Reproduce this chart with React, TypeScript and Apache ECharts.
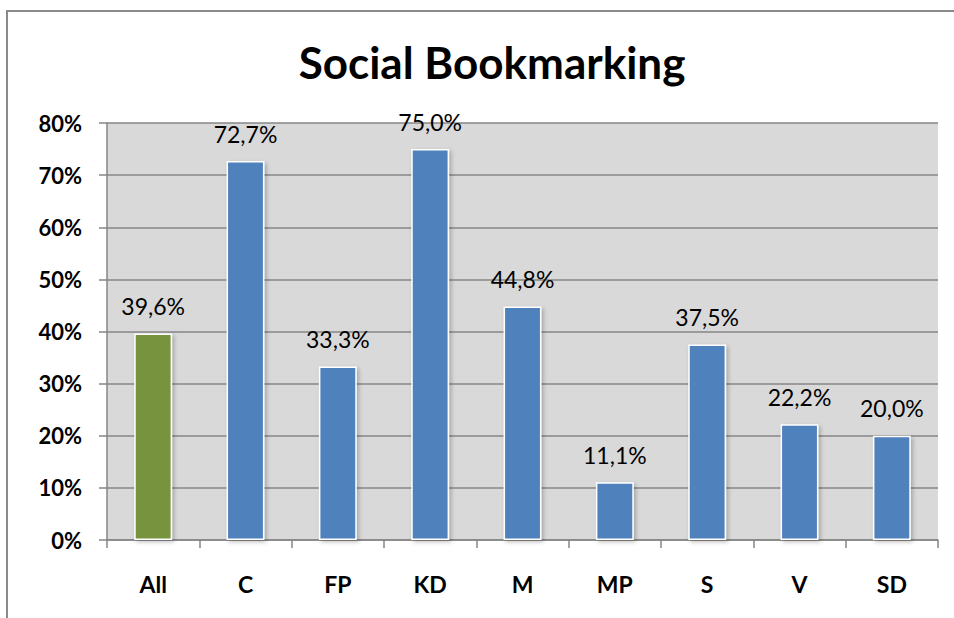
import React, { useEffect, useRef } from "react";
import * as echarts from "echarts";

const categories = ["All", "C", "FP", "KD", "M", "MP", "S", "V", "SD"];
const values = [39.6, 72.7, 33.3, 75.0, 44.8, 11.1, 37.5, 22.2, 20.0];
const highlightIndex = 0;
const yTicks = { min: 0, max: 80, interval: 10 };
const title = "Social Bookmarking";

const FONT = "Lato, 'Open Sans', sans-serif";

export default function App() {
  const ref = useRef<HTMLDivElement>(null);
  useEffect(() => {
    if (!ref.current) return;
    const chart = echarts.init(ref.current, null, { renderer: "svg" });
    chart.setOption({
      animation: false,
      backgroundColor: "#ffffff",
      title: {
        text: title,
        left: 487,
        top: 35,
        textAlign: "center",
        textStyle: { fontFamily: FONT, fontSize: 44, fontWeight: "bold", color: "#000" },
      },
      graphic: [
        {
          type: "rect",
          shape: { x: 7, y: 11, width: 1000, height: 700 },
          style: { fill: "none", stroke: "#8a8a8a", lineWidth: 2 },
          silent: true,
        },
      ],
      grid: {
        left: 107,
        right: 16,
        top: 123,
        bottom: 78,
        show: true,
        backgroundColor: "#d9d9d9",
        borderWidth: 0,
      },
      xAxis: {
        type: "category",
        data: categories,
        axisLine: { show: true, lineStyle: { color: "#868686", width: 1.5 } },
        axisTick: { show: true, length: 8, lineStyle: { color: "#868686", width: 1.5 } },
        axisLabel: {
          margin: 32,
          fontFamily: FONT,
          fontSize: 23,
          fontWeight: "bold",
          color: "#000",
        },
      },
      yAxis: {
        type: "value",
        min: yTicks.min,
        max: yTicks.max,
        interval: yTicks.interval,
        axisLine: { show: true, lineStyle: { color: "#868686", width: 1.5 } },
        axisTick: { show: true, length: 8, inside: false, lineStyle: { color: "#868686", width: 1.5 } },
        splitLine: { show: true, lineStyle: { color: "#868686", width: 1.5 } },
        axisLabel: {
          margin: 25,
          fontFamily: FONT,
          fontSize: 22,
          fontWeight: "bold",
          color: "#000",
          formatter: (v: number) => v + "%",
        },
      },
      series: [
        {
          type: "bar",
          barWidth: "41%",
          data: values.map((v, i) => ({
            value: v,
            itemStyle: { color: i === highlightIndex ? "#77933c" : "#4f81bd" },
          })),
          itemStyle: {
            borderColor: "#ffffff",
            borderWidth: 1.5,
            shadowColor: "rgba(0,0,0,0.25)",
            shadowBlur: 4,
            shadowOffsetX: 2,
            shadowOffsetY: 2,
          },
          label: {
            show: true,
            position: "top",
            distance: 16,
            fontFamily: FONT,
            fontSize: 23,
            color: "#000",
            formatter: (p: any) => p.value.toFixed(1).replace(".", ",") + "%",
          },
        },
      ],
    });
    return () => chart.dispose();
  }, []);
  return (
    <div
      ref={ref}
      style={{ position: "fixed", left: 0, top: 0, width: 954, height: 618 }}
    />
  );
}
